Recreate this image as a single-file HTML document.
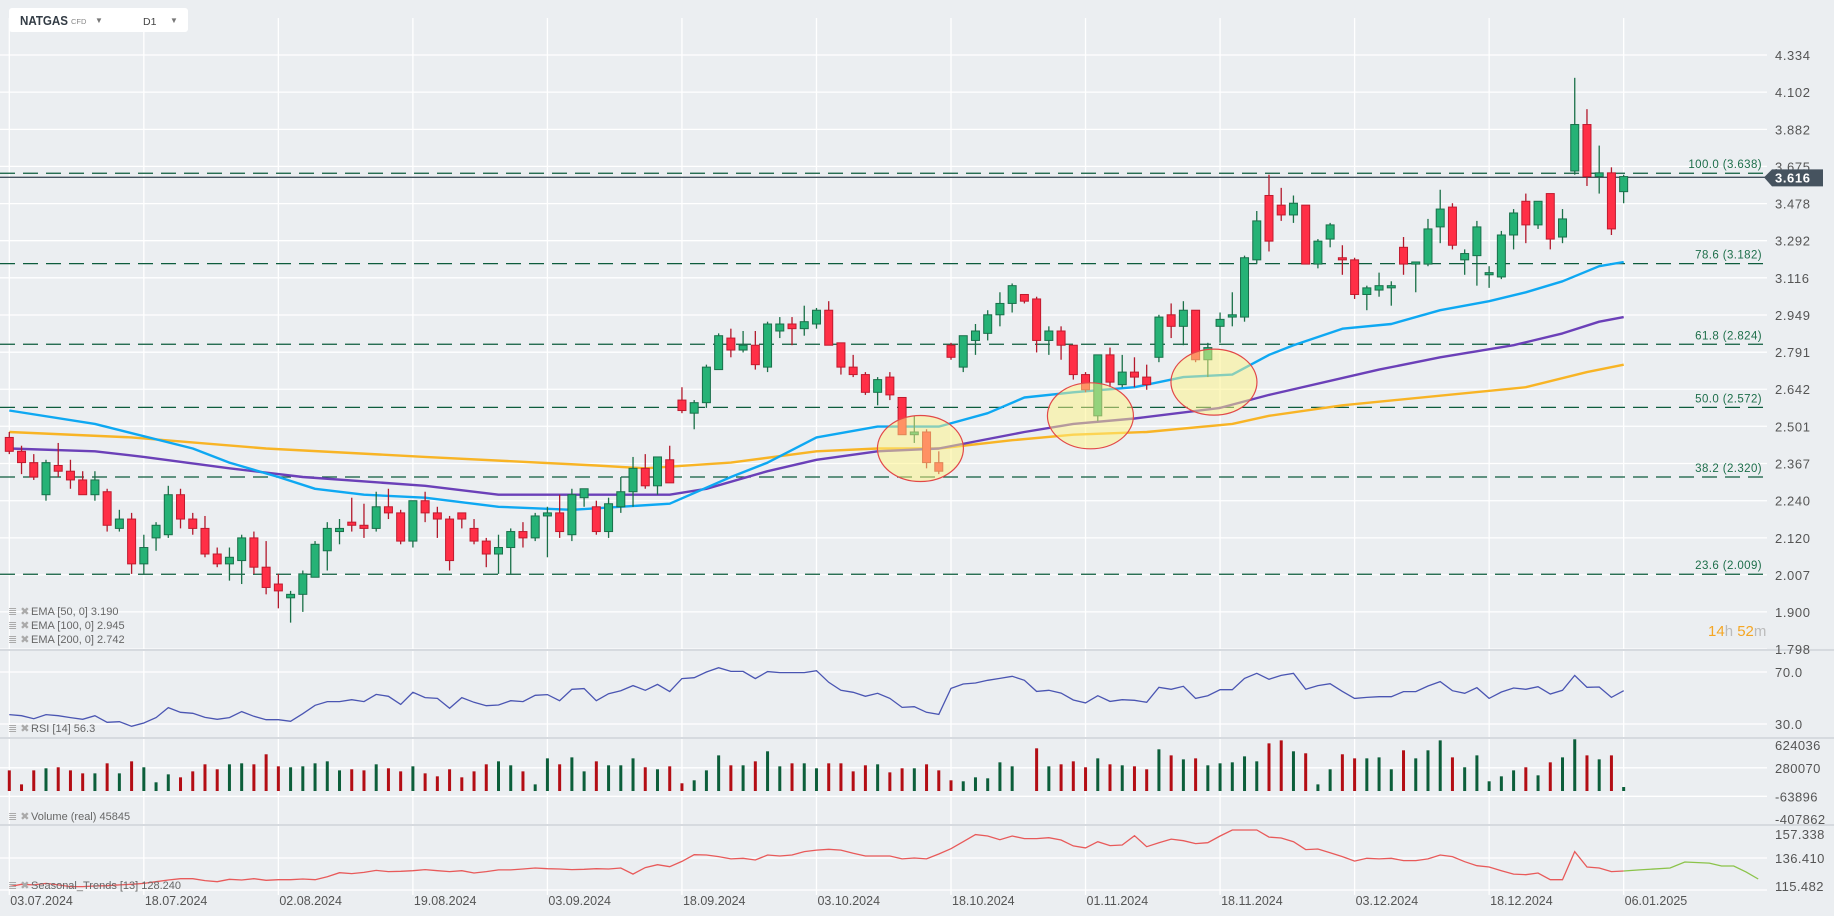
<!DOCTYPE html>
<html><head><meta charset="utf-8"><style>
html,body{margin:0;padding:0;background:#ebeef1;}
svg{display:block;font-family:"Liberation Sans",sans-serif;}
</style></head><body>
<svg id="chart" width="1834" height="916" viewBox="0 0 1834 916" xmlns="http://www.w3.org/2000/svg">
<rect x="0" y="0" width="1834" height="916" fill="#ebeef1"/>
<g id="grid"></g>
<g id="fib"></g>
<g id="emas"></g>
<g id="candles"></g>
<g id="ellipses"></g>
<g id="lower"></g>
<g id="axes"></g>
<g>
<rect x="9" y="8" width="179" height="24" rx="3" fill="#ffffff"/>
<text x="20" y="25" font-size="12.5" font-weight="bold" fill="#333c45" textLength="48" lengthAdjust="spacingAndGlyphs">NATGAS</text>
<text x="71" y="24" font-size="7.5" fill="#888">CFD</text>
<text x="95" y="23" font-size="8" fill="#777">▼</text>
<text x="143" y="25" font-size="10.5" fill="#444">D1</text>
<text x="170" y="23" font-size="8" fill="#777">▼</text>
</g>
<g>
<g font-size="11" fill="#666">
<text x="8" y="615" fill="#aaa">≣ ✖</text><text x="31" y="615">EMA  [50,  0]  3.190</text>
<text x="8" y="629" fill="#aaa">≣ ✖</text><text x="31" y="629">EMA  [100,  0]  2.945</text>
<text x="8" y="643" fill="#aaa">≣ ✖</text><text x="31" y="643">EMA  [200,  0]  2.742</text>
<text x="8" y="732" fill="#aaa">≣ ✖</text><text x="31" y="732">RSI  [14]  56.3</text>
<text x="8" y="820" fill="#aaa">≣ ✖</text><text x="31" y="820">Volume  (real)  45845</text>
<text x="8" y="889" fill="#aaa">≣ ✖</text><text x="31" y="889">Seasonal_Trends  [13]  128.240</text>
</g>
</g>
<text x="1708" y="636" font-size="15"><tspan fill="#f5a623">14</tspan><tspan fill="#bbb">h </tspan><tspan fill="#f5a623">52</tspan><tspan fill="#bbb">m</tspan></text>
</svg>
<script>
const opens=[2.46,2.41,2.37,2.26,2.36,2.34,2.31,2.26,2.27,2.15,2.18,2.04,2.12,2.13,2.26,2.18,2.15,2.07,2.04,2.05,2.12,2.03,1.98,1.94,1.95,2.00,2.08,2.14,2.17,2.16,2.15,2.22,2.20,2.11,2.24,2.20,2.18,2.20,2.15,2.11,2.07,2.09,2.14,2.12,2.19,2.20,2.13,2.25,2.22,2.14,2.22,2.27,2.35,2.29,2.38,2.60,2.55,2.59,2.72,2.85,2.80,2.82,2.73,2.88,2.91,2.89,2.91,2.97,2.83,2.73,2.70,2.63,2.69,2.61,2.47,2.48,2.37,2.82,2.73,2.84,2.87,2.95,3.00,3.04,3.02,2.84,2.88,2.82,2.70,2.54,2.78,2.66,2.71,2.69,2.77,2.95,2.90,2.97,2.76,2.90,2.94,2.94,3.20,3.52,3.47,3.42,3.47,3.18,3.30,3.21,3.20,3.04,3.06,3.07,3.26,3.18,3.18,3.36,3.46,3.20,3.22,3.13,3.12,3.32,3.49,3.37,3.53,3.31,3.65,3.91,3.62,3.64,3.54];
const highs=[2.48,2.43,2.40,2.38,2.44,2.38,2.34,2.34,2.28,2.21,2.20,2.13,2.17,2.29,2.28,2.20,2.19,2.09,2.09,2.13,2.14,2.11,2.01,1.96,2.02,2.11,2.17,2.18,2.25,2.23,2.27,2.28,2.21,2.24,2.27,2.22,2.19,2.20,2.18,2.12,2.13,2.15,2.17,2.20,2.22,2.26,2.28,2.28,2.24,2.25,2.32,2.39,2.40,2.39,2.43,2.65,2.60,2.74,2.87,2.89,2.88,2.88,2.92,2.94,2.94,2.99,2.98,3.01,2.83,2.78,2.71,2.69,2.71,2.61,2.54,2.49,2.41,2.83,2.86,2.91,2.97,3.05,3.09,3.04,3.03,2.90,2.90,2.82,2.71,2.78,2.81,2.78,2.77,2.74,2.95,3.00,3.01,2.97,2.83,2.96,3.05,3.22,3.44,3.63,3.56,3.52,3.47,3.30,3.38,3.27,3.21,3.08,3.14,3.10,3.31,3.19,3.40,3.55,3.48,3.25,3.39,3.17,3.34,3.45,3.53,3.49,3.53,3.45,4.19,4.00,3.79,3.67,3.63];
const lows=[2.40,2.33,2.31,2.24,2.32,2.28,2.26,2.24,2.14,2.14,2.01,2.01,2.08,2.12,2.15,2.13,2.06,2.03,1.99,1.98,2.01,1.95,1.91,1.87,1.90,2.00,2.02,2.10,2.14,2.12,2.14,2.18,2.10,2.09,2.17,2.12,2.02,2.15,2.10,2.03,2.01,2.01,2.09,2.11,2.06,2.12,2.11,2.22,2.13,2.12,2.20,2.22,2.28,2.26,2.30,2.55,2.49,2.57,2.72,2.77,2.79,2.72,2.71,2.85,2.82,2.86,2.89,2.82,2.70,2.69,2.62,2.58,2.60,2.47,2.44,2.35,2.33,2.76,2.71,2.78,2.84,2.90,2.96,3.00,2.79,2.78,2.76,2.68,2.63,2.52,2.65,2.65,2.65,2.64,2.75,2.85,2.82,2.75,2.69,2.83,2.90,2.92,3.18,3.24,3.39,3.38,3.18,3.16,3.26,3.13,3.02,2.97,3.03,2.99,3.13,3.05,3.17,3.28,3.25,3.13,3.08,3.07,3.11,3.25,3.28,3.35,3.25,3.28,3.63,3.57,3.53,3.32,3.48];
const closes=[2.41,2.37,2.32,2.37,2.34,2.31,2.26,2.31,2.16,2.18,2.04,2.09,2.16,2.26,2.18,2.15,2.07,2.04,2.06,2.12,2.03,1.97,1.96,1.95,2.01,2.10,2.15,2.15,2.16,2.15,2.22,2.20,2.11,2.24,2.20,2.18,2.05,2.18,2.11,2.07,2.09,2.14,2.12,2.19,2.20,2.14,2.26,2.28,2.14,2.23,2.27,2.35,2.29,2.39,2.30,2.56,2.59,2.73,2.86,2.80,2.82,2.74,2.91,2.91,2.89,2.92,2.97,2.82,2.73,2.70,2.63,2.68,2.62,2.47,2.48,2.37,2.34,2.77,2.86,2.88,2.95,3.00,3.08,3.01,2.84,2.88,2.82,2.70,2.64,2.78,2.67,2.71,2.69,2.66,2.94,2.90,2.97,2.76,2.81,2.93,2.95,3.21,3.39,3.29,3.42,3.48,3.18,3.29,3.37,3.20,3.04,3.07,3.08,3.08,3.18,3.19,3.35,3.45,3.27,3.23,3.36,3.14,3.32,3.43,3.37,3.49,3.30,3.40,3.91,3.62,3.64,3.35,3.62];
const volumesK=[249,80,249,274,286,249,213,213,334,213,358,286,105,201,165,237,322,262,322,334,322,443,298,286,298,334,358,249,262,249,322,274,237,298,213,177,262,165,237,322,358,310,237,80,394,322,406,237,358,310,310,394,286,262,298,93,129,249,430,310,310,358,479,298,334,334,274,334,334,237,310,322,225,274,274,322,249,129,117,165,153,346,298,0,515,298,322,358,286,394,322,310,298,262,503,430,382,394,310,334,346,418,358,575,611,479,455,80,262,443,394,394,406,262,491,394,491,611,406,286,430,117,177,249,286,189,346,406,624,430,382,430,48];
const rsiVals=[37.2,36.4,34.1,37.2,36.4,34.9,33.6,36.4,31.3,31.8,28.2,30.8,34.9,42.6,39.0,38.2,35.1,33.6,34.9,39.5,35.9,33.3,33.3,32.1,37.9,44.4,47.2,47.2,48.7,47.2,52.8,51.3,45.1,54.4,50.3,49.7,42.1,50.3,46.7,44.1,44.6,47.9,47.2,52.1,52.6,47.9,56.7,57.2,47.9,53.3,55.6,59.5,55.9,60.5,54.9,64.9,65.6,70.0,73.3,70.5,70.5,64.9,70.3,69.5,69.5,69.5,71.0,62.1,55.9,54.4,51.3,53.6,49.7,42.8,43.3,39.0,37.4,57.4,60.8,61.5,63.6,65.1,66.7,63.6,55.1,55.9,53.8,48.5,46.2,51.8,47.4,48.7,48.2,46.7,58.2,56.7,59.0,49.7,51.8,56.4,56.4,65.1,69.0,64.4,67.4,69.0,56.7,59.5,61.0,55.1,49.7,50.5,51.0,51.0,54.9,54.9,59.2,62.6,55.6,53.6,57.9,49.7,54.6,57.7,56.7,58.7,53.1,55.9,67.4,58.2,58.5,50.5,55.6];
const seasonalVals=[117.7,119.2,118.8,119.8,118.8,117.7,117.7,118.1,118.3,118.8,119.2,119.8,120.9,122.0,122.9,122.9,121.6,120.9,122.5,122.0,122.9,121.8,122.2,122.2,122.7,122.2,124.2,126.8,126.2,127.0,128.3,127.5,127.7,128.1,128.8,128.1,127.5,128.1,126.6,127.5,128.6,128.6,129.2,129.9,129.4,129.2,128.8,129.0,129.4,129.2,129.9,125.9,130.1,132.0,130.7,134.2,138.6,138.4,137.3,135.8,136.2,135.1,138.4,137.7,138.4,140.6,141.6,142.1,141.6,139.5,137.7,137.7,137.7,135.8,136.4,135.8,139.0,142.5,147.1,151.7,150.8,148.4,150.8,149.1,149.1,149.7,148.2,144.3,143.0,147.1,144.5,144.9,151.0,143.8,146.4,148.8,147.7,145.8,146.4,150.8,154.7,154.7,154.7,150.1,149.5,147.1,141.9,142.3,139.9,137.3,134.4,136.2,135.8,136.2,134.7,134.7,135.8,138.4,137.3,134.0,131.4,130.5,128.1,125.9,125.5,126.6,122.2,122.2,140.6,130.5,129.9,127.5,127.9];
const seasonFcIdx=[132,133.3,135.8,137,139,140,141,142,143];
const seasonFcVals=[127.9,128.6,129.9,133.8,133.1,131.2,131.2,127.3,122.7];
const ema50Idx=[0,7,15,18,22,25,29,34,40,46,54,59,62,66,71,76,80,83,87,92,96,100,103,105,109,113,117,121,124,127,130,132];
const ema50Vals=[2.56,2.51,2.42,2.37,2.32,2.28,2.26,2.25,2.22,2.21,2.23,2.32,2.37,2.46,2.50,2.50,2.55,2.61,2.63,2.65,2.69,2.70,2.78,2.82,2.89,2.91,2.97,3.01,3.05,3.10,3.17,3.19];
const ema100Idx=[0,7,11,18,24,34,40,54,57,62,66,71,76,83,87,92,99,103,112,117,123,127,130,132];
const ema100Vals=[2.42,2.41,2.39,2.35,2.32,2.29,2.26,2.26,2.28,2.34,2.38,2.41,2.42,2.48,2.51,2.53,2.57,2.62,2.72,2.77,2.82,2.87,2.92,2.94];
const ema200Idx=[0,10,21,34,48,52,59,66,71,76,82,87,93,100,103,109,124,129,132];
const ema200Vals=[2.48,2.46,2.42,2.39,2.36,2.35,2.37,2.41,2.42,2.42,2.45,2.47,2.48,2.51,2.54,2.58,2.65,2.71,2.74];
const fibLevels=[3.638,3.182,2.824,2.572,2.320,2.009];
const fibLabels=["100.0 (3.638)","78.6 (3.182)","61.8 (2.824)","50.0 (2.572)","38.2 (2.320)","23.6 (2.009)"];
const priceTicks=[4.334,4.102,3.882,3.675,3.478,3.292,3.116,2.949,2.791,2.642,2.501,2.367,2.240,2.120,2.007,1.900,1.798];
const dateLabels=["03.07.2024","18.07.2024","02.08.2024","19.08.2024","03.09.2024","18.09.2024","03.10.2024","18.10.2024","01.11.2024","18.11.2024","03.12.2024","18.12.2024","06.01.2025"];
const dateIdx=[0,11,22,33,44,55,66,77,88,99,110,121,132];
const rsiTicks=[70,30];
const volTicksK=[624.036,280.070,-63.896,-407.862];
const seasonTicks=[157.338,136.410,115.482];
const ellipseIdx=[74.5,88.4,98.5];
const ellipsePrice=[2.42,2.54,2.67];
const lastPrice=3.616;

const NS="http://www.w3.org/2000/svg";
const PLOT_R=1767;
function xi(i){return 9.3+i*12.23;}
function yP(p){return 55+675.3*(1.4665-Math.log(p));}
function yR(v){return 672+(70-v)*1.3;}
function yV(k){return 791-k*0.08286;}
function yS(v){return 858-(v-136.41)*1.529;}
function clamp(v,a,b){return Math.max(a,Math.min(b,v));}
function mk(tag,attrs,parent){const e=document.createElementNS(NS,tag);for(const k in attrs)e.setAttribute(k,attrs[k]);parent.appendChild(e);return e;}
const grid=document.getElementById('grid'),fib=document.getElementById('fib'),emas=document.getElementById('emas'),cg=document.getElementById('candles'),eg=document.getElementById('ellipses'),lower=document.getElementById('lower'),axes=document.getElementById('axes');

priceTicks.forEach(p=>{const l=mk('line',{x1:0,x2:PLOT_R,y1:yP(p),y2:yP(p),stroke:'#ffffff','stroke-width':1.3},grid);


const t=mk('text',{x:1775,y:yP(p)+5,'font-size':13,fill:'#555','letter-spacing':'0.6'},axes);t.textContent=p.toFixed(3);

});
dateIdx.forEach((d,k)=>{const x=xi(d);const l=mk('line',{x1:x,x2:x,y1:18,y2:895,stroke:'#ffffff','stroke-width':1.3},grid);


const t=mk('text',{x:x+1,y:905,'font-size':12.5,fill:'#555'},axes);t.textContent=dateLabels[k];

});
[650,738,825].forEach(y=>{const l=mk('line',{x1:0,x2:1834,y1:y,y2:y,stroke:'#d6dadf','stroke-width':2},grid);

});

fibLevels.forEach((p,k)=>{const y=yP(p);const l=mk('line',{x1:0,x2:1765,y1:y,y2:y,stroke:'#0d5c3d','stroke-width':1.2,'stroke-dasharray':'15 8'},fib);


const t=mk('text',{x:1762,y:y-5,'font-size':11.5,fill:'#1d6e4a','text-anchor':'end','letter-spacing':'0.4'},fib);t.textContent=fibLabels[k];

});
const cy=yP(lastPrice);
const pl=mk('line',{x1:0,x2:1767,y1:cy,y2:cy,stroke:'#44525e','stroke-width':1.3},fib);


const pb=mk('path',{d:`M1764 ${cy} L1772 ${cy-8} L1823 ${cy-8} L1823 ${cy+9} L1772 ${cy+9} Z`,fill:'#46535f'},axes);


const pt=mk('text',{x:1775,y:cy+5,'font-size':13,'font-weight':'bold',fill:'#fff','letter-spacing':'0.6'},axes);pt.textContent=lastPrice.toFixed(3);



function linePath(idx,vals,yf){return idx.map((i,k)=>(k?'L':'M')+xi(i).toFixed(1)+' '+yf(vals[k]).toFixed(1)).join(' ');}
[[ema200Idx,ema200Vals,'#f8b425','ema200-line'],[ema100Idx,ema100Vals,'#6b40b8','ema100-line'],[ema50Idx,ema50Vals,'#0ea8f2','ema50-line']].forEach(s=>{
const p=mk('path',{d:linePath(s[0],s[1],yP),fill:'none',stroke:s[2],'stroke-width':2.4,'stroke-linejoin':'round'},emas);

});

opens.forEach((o,i)=>{const c=closes[i],up=c>=o;const x=xi(i);
const g=mk('g',{},cg);


mk('line',{x1:x,x2:x,y1:yP(highs[i]),y2:yP(lows[i]),stroke:up?'#1a7048':'#b3192c','stroke-width':1.3},g);
const t=yP(Math.max(o,c)),b=yP(Math.min(o,c));
mk('rect',{x:x-4,y:t,width:8,height:Math.max(b-t,1.5),fill:up?'#26b276':'#ff2f46',stroke:up?'#18704a':'#c01a2e','stroke-width':1},g);});

ellipseIdx.forEach((ix,k)=>{const e=mk('ellipse',{cx:xi(ix),cy:yP(ellipsePrice[k]),rx:43,ry:33,fill:'rgba(255,243,130,0.5)',stroke:'#e24848','stroke-width':1.2},eg);

});

rsiTicks.forEach(v=>{const l=mk('line',{x1:0,x2:PLOT_R,y1:yR(v),y2:yR(v),stroke:'#fff','stroke-width':1.3},grid);


const t=mk('text',{x:1775,y:yR(v)+5,'font-size':13,fill:'#555','letter-spacing':'0.6'},axes);t.textContent=v.toFixed(1);

});
volTicksK.forEach((v,k)=>{if(k===1||k===2){const l=mk('line',{x1:0,x2:PLOT_R,y1:yV(v),y2:yV(v),stroke:'#fff','stroke-width':1.3},grid);

}
const t=mk('text',{x:1775,y:clamp(yV(v),745,819)+5,'font-size':13,fill:'#555','letter-spacing':'0.4'},axes);t.textContent=Math.round(v*1000);

});
seasonTicks.forEach((v,k)=>{if(k>0){const l=mk('line',{x1:0,x2:PLOT_R,y1:yS(v),y2:yS(v),stroke:'#fff','stroke-width':1.3},grid);

}
const t=mk('text',{x:1775,y:clamp(yS(v),834,886)+5,'font-size':13,fill:'#555','letter-spacing':'0.4'},axes);t.textContent=v.toFixed(3);

});

const rp=mk('path',{d:linePath(rsiVals.map((v,i)=>i),rsiVals,yR),fill:'none',stroke:'#4a55b2','stroke-width':1.3},lower);


volumesK.forEach((v,i)=>{if(v<=0)return;const up=closes[i]>=opens[i];
const r=mk('rect',{x:xi(i)-1.5,y:yV(v),width:3,height:791-yV(v),fill:up?'#0b5e3a':'#b30d14'},lower);

});
const sp=mk('path',{d:linePath(seasonalVals.map((v,i)=>i),seasonalVals,yS),fill:'none',stroke:'#e85a5a','stroke-width':1.3},lower);


const sf=mk('path',{d:linePath(seasonFcIdx,seasonFcVals,yS),fill:'none',stroke:'#8bc34a','stroke-width':1.3},lower);


</script>
</body></html>
